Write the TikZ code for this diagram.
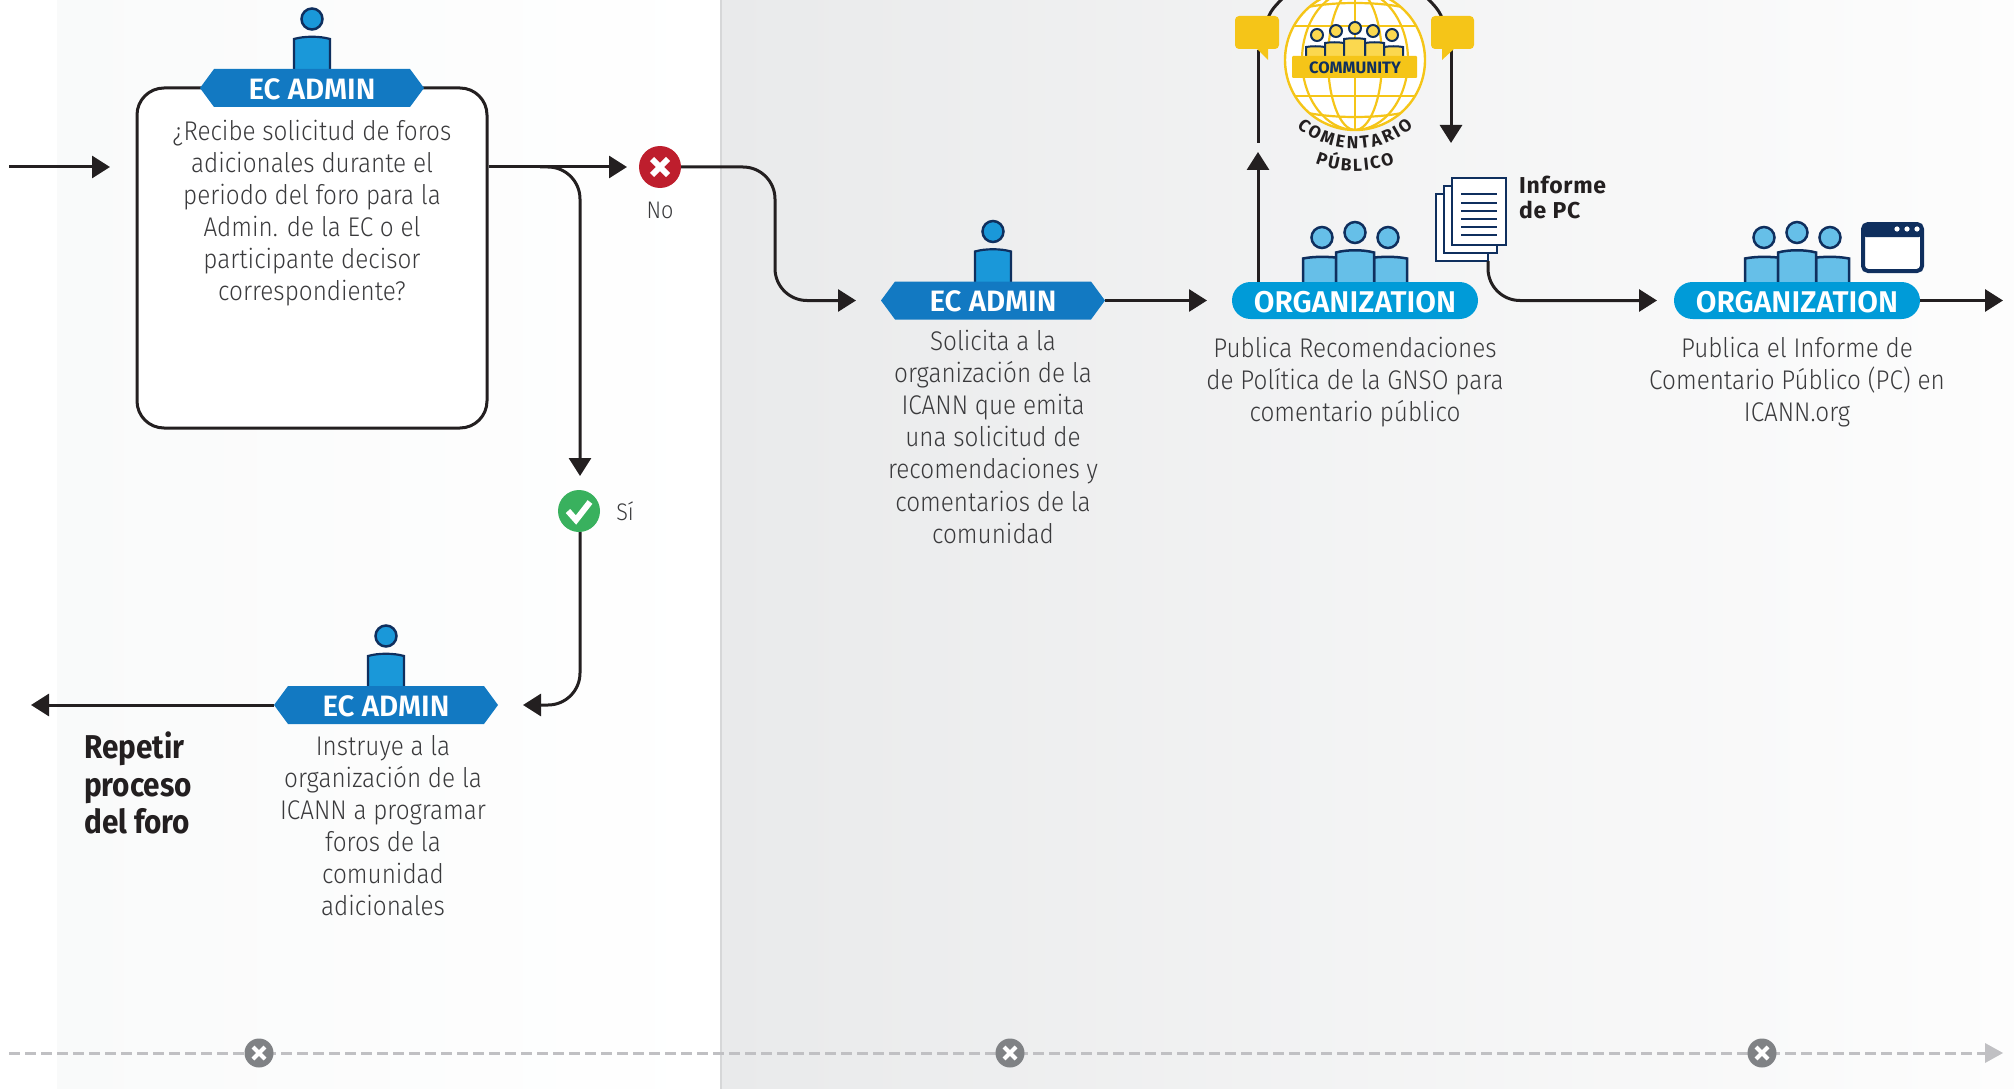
\documentclass[tikz,border=0pt]{standalone}
\usepackage{fontspec}
\usetikzlibrary{arrows.meta,decorations.text,calc}
\setmainfont{Fira Sans Light}[BoldFont={Fira Sans SemiBold}]
\newfontfamily\bodyf{Fira Sans Light}[FakeStretch=0.9]
\newfontfamily\headf{Fira Sans SemiBold}
\newfontfamily\notob{Fira Sans Bold}
\newfontfamily\repf{Fira Sans Bold}[FakeStretch=0.9]
\newfontfamily\pcf{Fira Sans Bold}[LetterSpace=3]
\definecolor{ink}{HTML}{231F20}
\definecolor{bodytxt}{HTML}{3A3A3C}
\definecolor{navy}{HTML}{0F2F5E}
\definecolor{ecblue}{HTML}{1279C2}
\definecolor{persblue}{HTML}{1A98D9}
\definecolor{orgblue}{HTML}{009BD8}
\definecolor{lightblue}{HTML}{66BFE8}
\definecolor{gold}{HTML}{F5C518}
\definecolor{lightgold}{HTML}{FBD84F}
\definecolor{nored}{HTML}{BE1E2D}
\definecolor{yesgreen}{HTML}{39B15E}
\definecolor{dashgray}{HTML}{C0C0C3}
\definecolor{xgray}{HTML}{808285}
\tikzset{
 x=1pt,y=-1pt,
 flow/.style={draw=ink,line width=3pt,rounded corners=32pt},
 tipped/.style={flow,-{Triangle[length=18pt,width=22pt]}},
 plainline/.style={draw=ink,line width=3pt},
 ectext/.style={font=\headf\fontsize{29.5}{32}\selectfont,text=white,inner sep=0pt},
 bodytext/.style={font=\bodyf\fontsize{27}{32.1}\selectfont,text=bodytxt,align=center,inner sep=0pt,anchor=north},
 headcirc/.style={circle,draw=navy,line width=2.5pt,inner sep=0pt,minimum size=#1},
 orgpill/.style={rectangle,rounded corners=18.5pt,fill=orgblue,minimum width=246pt,minimum height=37pt,inner sep=0pt},
 orglabel/.style={font=\headf\fontsize{30}{32}\selectfont,text=white,inner sep=0pt},
 smbody/.style={draw=navy,line width=2.5pt,fill=#1},
 xcirc/.style={circle,fill=xgray,minimum size=29pt,inner sep=0pt},
 statecirc/.style={circle,minimum size=42pt,inner sep=0pt,fill=#1},
 globeline/.style={gold,line width=2.2pt},
}
\newcommand{\ecperson}[2]{%
  \node[headcirc=21pt,fill=persblue] at (#1,#2-50) {};
  \fill[persblue] (#1-18,#2+2) -- (#1-18,#2-30) .. controls (#1-8,#2-33) and (#1+8,#2-33) .. (#1+18,#2-30) -- (#1+18,#2+2) -- cycle;
  \draw[navy,line width=2.2pt] (#1-18,#2+2) -- (#1-18,#2-30) .. controls (#1-8,#2-33) and (#1+8,#2-33) .. (#1+18,#2-30) -- (#1+18,#2+2);
}
\newcommand{\ecbadge}[3]{%
  \fill[ecblue] (#2-112,#3) -- (#2-98,#3-19) -- (#2+98,#3-19) -- (#2+112,#3) -- (#2+98,#3+19) -- (#2-98,#3+19) -- cycle;
  \node[inner sep=0pt,minimum width=224pt,minimum height=38pt] (#1) at (#2,#3) {};
  \node[ectext] at (#2,#3+1) {EC ADMIN};
}
\newcommand{\orgpeople}[2]{%
  \node[headcirc=21pt,fill=lightblue] at (#1-33,#2-63) {};
  \node[headcirc=21pt,fill=lightblue] at (#1+33,#2-63) {};
  \node[headcirc=21pt,fill=lightblue] at (#1,#2-68) {};
  \draw[smbody=lightblue] (#1-52,#2-17) -- (#1-52,#2-42) .. controls (#1-42,#2-44) and (#1-30,#2-44) .. (#1-19,#2-43) -- (#1-19,#2-17);
  \draw[smbody=lightblue] (#1+52,#2-17) -- (#1+52,#2-42) .. controls (#1+42,#2-44) and (#1+30,#2-44) .. (#1+19,#2-43) -- (#1+19,#2-17);
  \draw[smbody=lightblue] (#1-19,#2-17) -- (#1-19,#2-48) .. controls (#1-8,#2-51) and (#1+8,#2-51) .. (#1+19,#2-48) -- (#1+19,#2-17);
}
\newcommand{\whitex}[4]{%
  \draw[white,line width=#4pt] (#1-#3,#2-#3) -- (#1+#3,#2+#3) (#1-#3,#2+#3) -- (#1+#3,#2-#3);
}
\begin{document}
\begin{tikzpicture}
\useasboundingbox (0,0) rectangle (2014,1089);
\fill[white] (0,0) rectangle (2014,1089);
\shade[left color={rgb,255:red,249;green,250;blue,250},right color=white] (57,0) rectangle (721,1089);
\shade[left color={rgb,255:red,233;green,234;blue,235},right color={rgb,255:red,253;green,253;blue,253}] (721,0) rectangle (2014,1089);
\draw[color={rgb,255:red,214;green,215;blue,216},line width=2pt] (721,0) -- (721,1089);

% timeline
\coordinate (tlstart) at (9,1053);
\coordinate (tlend) at (2003,1053);
\draw[dashgray,line width=3pt,dash pattern=on 11pt off 5pt] (tlstart) -- (1988,1053);
\fill[dashgray] (tlend) -- (1985,1043) -- (1985,1063) -- cycle;
\node[xcirc] (t1) at (259,1053) {}; \whitex{259}{1053}{6}{4}
\node[xcirc] (t2) at (1010,1053) {}; \whitex{1010}{1053}{6}{4}
\node[xcirc] (t3) at (1762,1053) {}; \whitex{1762}{1053}{6}{4}

% decision box
\node[draw=ink,line width=3pt,fill=white,rounded corners=27pt,minimum width=350pt,minimum height=340pt,inner sep=0pt] (box) at (312,258) {};
\ecperson{312}{69}
\ecbadge{b1}{312}{88}
\node[bodytext] (boxtxt) at (312,119.5) {¿Recibe solicitud de foros\\adicionales durante el\\periodo del foro para la\\Admin. de la EC o el\\participante decisor\\correspondiente?};

% state nodes
\node[statecirc=nored] (no) at (660,167) {}; \whitex{660}{167}{8}{6}
\node[statecirc=yesgreen] (si) at (579,511) {};
\draw[white,line width=6pt] (568,511) -- (576,520) -- (590,502);
\node[font=\bodyf\fontsize{24}{28}\selectfont,text=bodytxt,inner sep=0pt] (nolab) at (660,210) {No};
\node[font=\bodyf\fontsize{24}{28}\selectfont,text=bodytxt,inner sep=0pt] (silab) at (625,511) {Sí};

% connectors of the left part
\coordinate (instart) at (9,167);
\coordinate (inend) at (110,167);
\draw[tipped] (instart) -- (inend);
\coordinate (notip) at (627,167);
\draw[tipped] (box.east |- notip) -- (notip);
\coordinate (sitip) at (580,476);
\coordinate (sibend) at (580,167);
\draw[tipped] (540,167) -- (sibend) -- (sitip);
\coordinate (b3tip) at (856,300.5);
\draw[tipped] (no.east) -- (775,167) -- (775,300.5) -- (b3tip);
\coordinate (b2tip) at (523,705);
\draw[tipped] (580,532) -- (580,705) -- (b2tip);

% lower EC ADMIN
\ecperson{386}{686}
\ecbadge{b2}{386}{705}
\node[bodytext] (b2txt) at (383,735) {Instruye a la\\organización de la\\ICANN a programar\\foros de la\\comunidad\\adicionales};
\coordinate (rtip) at (31,705);
\draw[tipped] (b2.west) -- (rtip);
\node[font=\repf\fontsize{33}{37.5}\selectfont,text=ink,align=left,anchor=north west,inner sep=0pt] (rep) at (84,732) {Repetir\\proceso\\del foro};

% middle EC ADMIN
\ecperson{993}{281.5}
\ecbadge{b3}{993}{300.5}
\node[bodytext] (b3txt) at (993,330) {Solicita a la\\organización de la\\ICANN que emita\\una solicitud de\\recomendaciones y\\comentarios de la\\comunidad};
\coordinate (o1tip) at (1207,300.5);
\draw[tipped] (b3.east) -- (o1tip);

% Organization 1
\orgpeople{1355}{300.5}
\node[orgpill] (o1) at (1355,300.5) {};
\node[orglabel] at (1355,302) {ORGANIZATION};
\node[bodytext] (o1txt) at (1355,336.5) {Publica Recomendaciones\\de Política de la GNSO para\\comentario público};

% Organization 2
\orgpeople{1797}{300.5}
\node[orgpill] (o2) at (1797,300.5) {};
\node[orglabel] at (1797,302) {ORGANIZATION};
\node[bodytext] (o2txt) at (1797,336.5) {Publica el Informe de\\Comentario Público (PC) en\\ICANN.org};
\coordinate (endtip) at (2003,300.5);
\draw[tipped] (o2.east) -- (endtip);
\draw[navy,line width=4pt,rounded corners=5pt,fill=white] (1863,224) rectangle (1922,271);
\fill[navy,rounded corners=3pt] (1863,224) rectangle (1922,237);
\foreach \dx in {1897,1907,1917} \fill[white] (\dx,229) circle (2.6);

% comment loop
\coordinate (uptip) at (1258,152);
\draw[tipped] (1258,282) -- (uptip);
\draw[plainline] (1258,143) -- (1258,50);
\coordinate (downtip) at (1451,143);
\draw[tipped] (1451,50) -- (downtip);
\draw[plainline] (1268,18) .. controls (1271,10) and (1276,5) .. (1283,-2);
\draw[plainline] (1442,18) .. controls (1439,10) and (1434,5) .. (1427,-2);
\fill[gold,rounded corners=4pt] (1235,16) rectangle (1279,49);
\fill[gold] (1256,48) -- (1268,60) -- (1268,48) -- cycle;
\fill[gold,rounded corners=4pt] (1431,16) rectangle (1474,49);
\fill[gold] (1442,48) -- (1442,60) -- (1455,48) -- cycle;

% globe
\fill[white] (1355,60) circle (70);
\begin{scope}[globeline]
\clip (1355,60) circle (70);
\draw (1355,-12) -- (1355,132);
\draw (1355,60) ellipse (27 and 70);
\draw (1355,60) ellipse (53 and 70);
\draw (1280,26) .. controls (1320,26) and (1390,26) .. (1430,26);
\draw (1280,96) .. controls (1320,96) and (1390,96) .. (1430,96);
\draw (1290,108) .. controls (1320,120) and (1390,120) .. (1420,108);
\draw (1290,12) .. controls (1320,0) and (1390,0) .. (1420,12);
\end{scope}
\draw[gold,line width=2.4pt] (1355,60) circle (70);
\foreach \hx/\hy/\bl/\br/\bt in {1317/35/1306/1325/47,1392/35/1384/1403/47,1336/31/1325/1344/43,1373/31/1365/1384/43,1355/28/1344/1365/39}{
  \draw[navy,line width=2pt,fill=lightgold] (\bl,56) -- (\bl,\bt) .. controls (\bl+6,\bt-1) and (\br-6,\bt-1) .. (\br,\bt) -- (\br,56);
  \draw[navy,line width=2pt,fill=lightgold] (\hx,\hy) circle (6);
}
\fill[gold,rounded corners=1pt] (1292,56) rectangle (1417,78);
\node[font=\notob\fontsize{16.5}{18}\selectfont,text=navy,inner sep=0pt] (comm) at (1355,67.5) {COMMUNITY};
\path[decorate,decoration={text along path,text align={fit to path},text={|\notob\fontsize{17.5}{19}\selectfont\color{ink}|COMENTARIO}}]
  (1355,60) ++(131:89) arc[start angle=131,end angle=49,radius=89];
\path[decorate,decoration={text along path,text align={fit to path},text={|\notob\fontsize{17.5}{19}\selectfont\color{ink}|PÚBLICO}}]
  (1355,60) ++(111:111) arc[start angle=111,end angle=69,radius=111];

% document icon
\draw[navy,line width=2.2pt,fill=white] (1436,194) rectangle (1488,261);
\draw[navy,line width=2.2pt,fill=white] (1444,186) rectangle (1497,253);
\draw[navy,line width=2.2pt,fill=white] (1452,178) rectangle (1506,245);
\foreach \ly in {194,203,211,219,227,235} \draw[navy,line width=2.2pt] (1461,\ly) -- (1497,\ly);
\node[font=\pcf\fontsize{23}{24.5}\selectfont,text=ink,align=left,anchor=north west,inner sep=0pt] (pc) at (1519,176) {Informe\\de PC};
\coordinate (doc) at (1488,261);
\coordinate (o2tip) at (1657,300.5);
\draw[tipped] (doc) -- (1488,300.5) -- (o2tip);
\end{tikzpicture}
\end{document}
